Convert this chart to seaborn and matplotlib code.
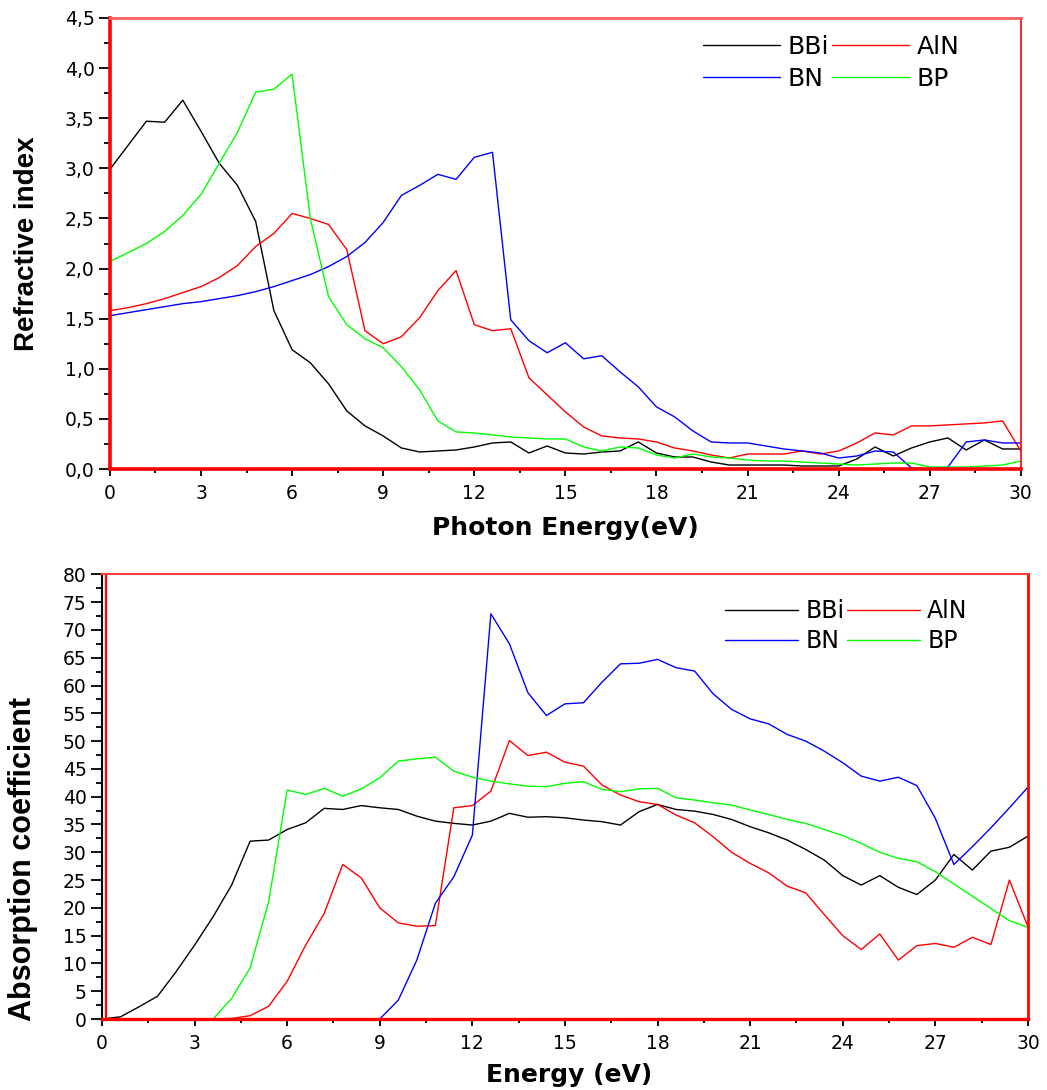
import matplotlib
matplotlib.use("Agg")
import matplotlib.pyplot as plt
import seaborn as sns
import pandas as pd
from matplotlib.ticker import MultipleLocator, FuncFormatter

# ---------------- data ----------------
energy = [0.0, 0.6, 1.2, 1.8, 2.4, 3.0, 3.6, 4.2, 4.8, 5.4,
          6.0, 6.6, 7.2, 7.8, 8.4, 9.0, 9.6, 10.2, 10.8, 11.4,
          12.0, 12.6, 13.2, 13.8, 14.4, 15.0, 15.6, 16.2, 16.8, 17.4,
          18.0, 18.6, 19.2, 19.8, 20.4, 21.0, 21.6, 22.2, 22.8, 23.4,
          24.0, 24.6, 25.2, 25.8, 26.4, 27.0, 27.6, 28.2, 28.8, 29.4, 30.0]

materials = ["BBi", "AlN", "BN", "BP"]
colors = {"BBi": "#000000", "AlN": "#ff0000", "BN": "#0000ff", "BP": "#00ff00"}

# refractive index
n_bbi = [2.99, 3.23, 3.47, 3.46, 3.68, 3.37, 3.05, 2.83, 2.47, 1.58,
         1.19, 1.06, 0.85, 0.58, 0.43, 0.33, 0.21, 0.17, 0.18, 0.19,
         0.22, 0.26, 0.27, 0.16, 0.23, 0.16, 0.15, 0.17, 0.18, 0.27,
         0.16, 0.12, 0.12, 0.07, 0.04, 0.04, 0.04, 0.04, 0.03, 0.03,
         0.03, 0.10, 0.22, 0.13, 0.21, 0.27, 0.31, 0.19, 0.29, 0.20, 0.20]
n_aln = [1.58, 1.61, 1.65, 1.70, 1.76, 1.82, 1.91, 2.03, 2.22, 2.35,
         2.55, 2.50, 2.44, 2.19, 1.38, 1.25, 1.32, 1.51, 1.78, 1.98,
         1.44, 1.38, 1.40, 0.91, 0.74, 0.57, 0.42, 0.33, 0.31, 0.30,
         0.27, 0.21, 0.18, 0.14, 0.11, 0.15, 0.15, 0.15, 0.18, 0.15,
         0.18, 0.26, 0.36, 0.34, 0.43, 0.43, 0.44, 0.45, 0.46, 0.48, 0.18]
n_bn = [1.53, 1.56, 1.59, 1.62, 1.65, 1.67, 1.70, 1.73, 1.77, 1.82,
        1.88, 1.94, 2.02, 2.12, 2.26, 2.46, 2.73, 2.83, 2.94, 2.89,
        3.11, 3.16, 1.49, 1.28, 1.16, 1.26, 1.10, 1.13, 0.97, 0.82,
        0.62, 0.52, 0.38, 0.27, 0.26, 0.26, 0.23, 0.20, 0.18, 0.16,
        0.11, 0.13, 0.18, 0.17, 0.01, 0.00, 0.02, 0.27, 0.29, 0.26, 0.26]
n_bp = [2.07, 2.16, 2.25, 2.37, 2.53, 2.74, 3.05, 3.36, 3.76, 3.79,
        3.94, 2.50, 1.72, 1.44, 1.30, 1.21, 1.02, 0.79, 0.48, 0.37,
        0.36, 0.34, 0.32, 0.31, 0.30, 0.30, 0.22, 0.18, 0.22, 0.21,
        0.14, 0.11, 0.15, 0.12, 0.11, 0.09, 0.08, 0.08, 0.07, 0.06,
        0.05, 0.04, 0.05, 0.06, 0.06, 0.02, 0.02, 0.02, 0.03, 0.04, 0.08]

# absorption coefficient
a_bbi = [0.0, 0.4, 2.2, 4.1, 8.5, 13.3, 18.4, 24.1, 32.0, 32.2,
         34.1, 35.3, 37.9, 37.7, 38.4, 38.0, 37.7, 36.5, 35.6, 35.2,
         34.9, 35.6, 37.0, 36.3, 36.4, 36.2, 35.8, 35.5, 34.9, 37.3,
         38.6, 37.7, 37.4, 36.8, 35.9, 34.6, 33.5, 32.2, 30.5, 28.6,
         25.8, 24.1, 25.8, 23.7, 22.4, 25.0, 29.6, 26.8, 30.2, 30.9, 32.9]
a_aln = [0.0, 0.0, 0.0, 0.0, 0.0, 0.0, 0.0, 0.1, 0.6, 2.3,
         6.8, 13.3, 19.0, 27.8, 25.4, 20.0, 17.3, 16.7, 16.8, 38.0,
         38.4, 41.0, 50.1, 47.4, 48.0, 46.2, 45.5, 42.1, 40.3, 39.1,
         38.6, 36.7, 35.3, 32.8, 30.0, 28.0, 26.3, 23.9, 22.7, 18.8,
         15.0, 12.5, 15.3, 10.6, 13.2, 13.6, 12.9, 14.7, 13.4, 25.0, 16.6]
a_bn = [0.0, 0.0, 0.0, 0.0, 0.0, 0.0, 0.0, 0.0, 0.0, 0.0,
        0.0, 0.0, 0.0, 0.0, 0.0, 0.0, 3.4, 10.6, 20.8, 25.6,
        33.1, 72.9, 67.5, 58.7, 54.6, 56.7, 56.9, 60.6, 63.9, 64.0,
        64.7, 63.2, 62.6, 58.5, 55.7, 54.0, 53.1, 51.2, 50.0, 48.2,
        46.1, 43.7, 42.8, 43.5, 42.0, 36.1, 27.8, 31.0, 34.4, 38.0, 41.7]
a_bp = [0.0, 0.0, 0.0, 0.0, 0.0, 0.0, 0.0, 3.7, 9.2, 21.1,
        41.2, 40.4, 41.5, 40.1, 41.4, 43.4, 46.4, 46.8, 47.1, 44.6,
        43.5, 42.8, 42.3, 41.9, 41.8, 42.4, 42.7, 41.3, 40.9, 41.4,
        41.5, 39.8, 39.4, 38.9, 38.5, 37.6, 36.8, 35.9, 35.2, 34.1,
        33.0, 31.6, 30.0, 28.9, 28.3, 26.5, 24.3, 22.1, 19.9, 17.7, 16.5]

x_ticks = [0, 3, 6, 9, 12, 15, 18, 21, 24, 27, 30]
legend_order = ["BBi", "BN", "AlN", "BP"]


def long_df(series):
    rows = []
    for name, vals in zip(materials, series):
        for e, v in zip(energy, vals):
            rows.append({"energy": e, "value": v, "material": name})
    return pd.DataFrame(rows)


df_n = long_df([n_bbi, n_aln, n_bn, n_bp])
df_a = long_df([a_bbi, a_aln, a_bn, a_bp])

# ---------------- style ----------------
sns.set_style("ticks")
plt.rcParams["font.family"] = ["DejaVu Sans"]
plt.rcParams["text.color"] = "black"
plt.rcParams["axes.labelcolor"] = "black"
plt.rcParams["xtick.color"] = "black"
plt.rcParams["ytick.color"] = "black"
plt.rcParams["xtick.labelcolor"] = "black"
plt.rcParams["ytick.labelcolor"] = "black"

fig = plt.figure(figsize=(10.47, 10.9), dpi=100)
ax1 = fig.add_axes([0.105, 0.5697, 0.870, 0.4138])
ax2 = fig.add_axes([0.0974, 0.0651, 0.8844, 0.408])

comma = FuncFormatter(lambda v, p: f"{v:.1f}".replace(".", ","))
intfmt = FuncFormatter(lambda v, p: f"{v:.0f}")

for ax, df in ((ax1, df_n), (ax2, df_a)):
    sns.lineplot(data=df, x="energy", y="value", hue="material",
                 hue_order=materials, palette=colors, linewidth=1.0,
                 estimator=None, sort=False, ax=ax)
    ax.set_xlim(0, 30)
    ax.set_xticks(x_ticks)
    ax.xaxis.set_minor_locator(MultipleLocator(1.5))
    ax.tick_params(axis="both", which="both", direction="out", color="black",
                   labelcolor="black", labelsize=13.5, width=1.3)
    ax.tick_params(axis="y", which="major", length=8, pad=3)
    ax.tick_params(axis="y", which="minor", length=4.5)
    ax.tick_params(axis="x", which="major", length=5, pad=6)
    ax.tick_params(axis="x", which="minor", length=3)
    ax.get_legend().remove()

# top panel
ax1.set_ylim(0, 4.5)
ax1.yaxis.set_major_locator(MultipleLocator(0.5))
ax1.yaxis.set_minor_locator(MultipleLocator(0.25))
ax1.yaxis.set_major_formatter(comma)
ax1.spines["left"].set_color("#ff0000")
ax1.spines["left"].set_linewidth(2.6)
ax1.spines["bottom"].set_color("#ff0000")
ax1.spines["bottom"].set_linewidth(2.6)
ax1.spines["top"].set_color("#ff6060")
ax1.spines["top"].set_linewidth(2.0)
ax1.spines["right"].set_color("#ff0000")
ax1.spines["right"].set_linewidth(1.2)
ax1.set_xlabel("Photon Energy(eV)", fontsize=18, fontweight="bold", color="black")
ax1.set_ylabel("Refractive index", fontsize=20, fontweight="bold", color="black",
               family=["Liberation Sans", "DejaVu Sans"])
ax1.xaxis.set_label_coords(0.5, -0.105)
ax1.yaxis.set_label_coords(-0.077, 0.5)
h, l = ax1.get_legend_handles_labels()
hm = dict(zip(l, h))
ax1.legend([hm[k] for k in legend_order], legend_order,
           ncol=2, loc="upper left", bbox_to_anchor=(0.651, 0.962),
           frameon=False, fontsize=18, handlelength=3.1, handletextpad=0.3,
           columnspacing=0.1, labelspacing=0.3, borderpad=0, borderaxespad=0)

# bottom panel
ax2.set_ylim(0, 80)
ax2.yaxis.set_major_locator(MultipleLocator(5))
ax2.yaxis.set_minor_locator(MultipleLocator(2.5))
ax2.yaxis.set_major_formatter(intfmt)
ax2.spines["left"].set_color("black")
ax2.spines["left"].set_linewidth(1.5)
ax2.spines["bottom"].set_color("#ff0000")
ax2.spines["bottom"].set_linewidth(2.4)
ax2.spines["top"].set_color("#ff4040")
ax2.spines["top"].set_linewidth(1.5)
ax2.spines["right"].set_color("#ff0000")
ax2.spines["right"].set_linewidth(2.0)
ax2.plot([0.0047, 0.0047], [0, 1], transform=ax2.transAxes, color="#ff0000",
         lw=1.6, clip_on=False)
ax2.set_xlabel("Energy (eV)", fontsize=18, fontweight="bold", color="black")
ax2.set_ylabel("Absorption coefficient", fontsize=22, fontweight="bold", color="black",
               family=["Liberation Sans", "DejaVu Sans"])
ax2.xaxis.set_label_coords(0.505, -0.098)
ax2.yaxis.set_label_coords(-0.069, 0.36)
h, l = ax2.get_legend_handles_labels()
hm = dict(zip(l, h))
ax2.legend([hm[k] for k in legend_order], legend_order,
           ncol=2, loc="upper left", bbox_to_anchor=(0.673, 0.944),
           frameon=False, fontsize=17, handlelength=3.1, handletextpad=0.3,
           columnspacing=0.1, labelspacing=0.25, borderpad=0, borderaxespad=0)

fig.savefig("out.png", dpi=100)
